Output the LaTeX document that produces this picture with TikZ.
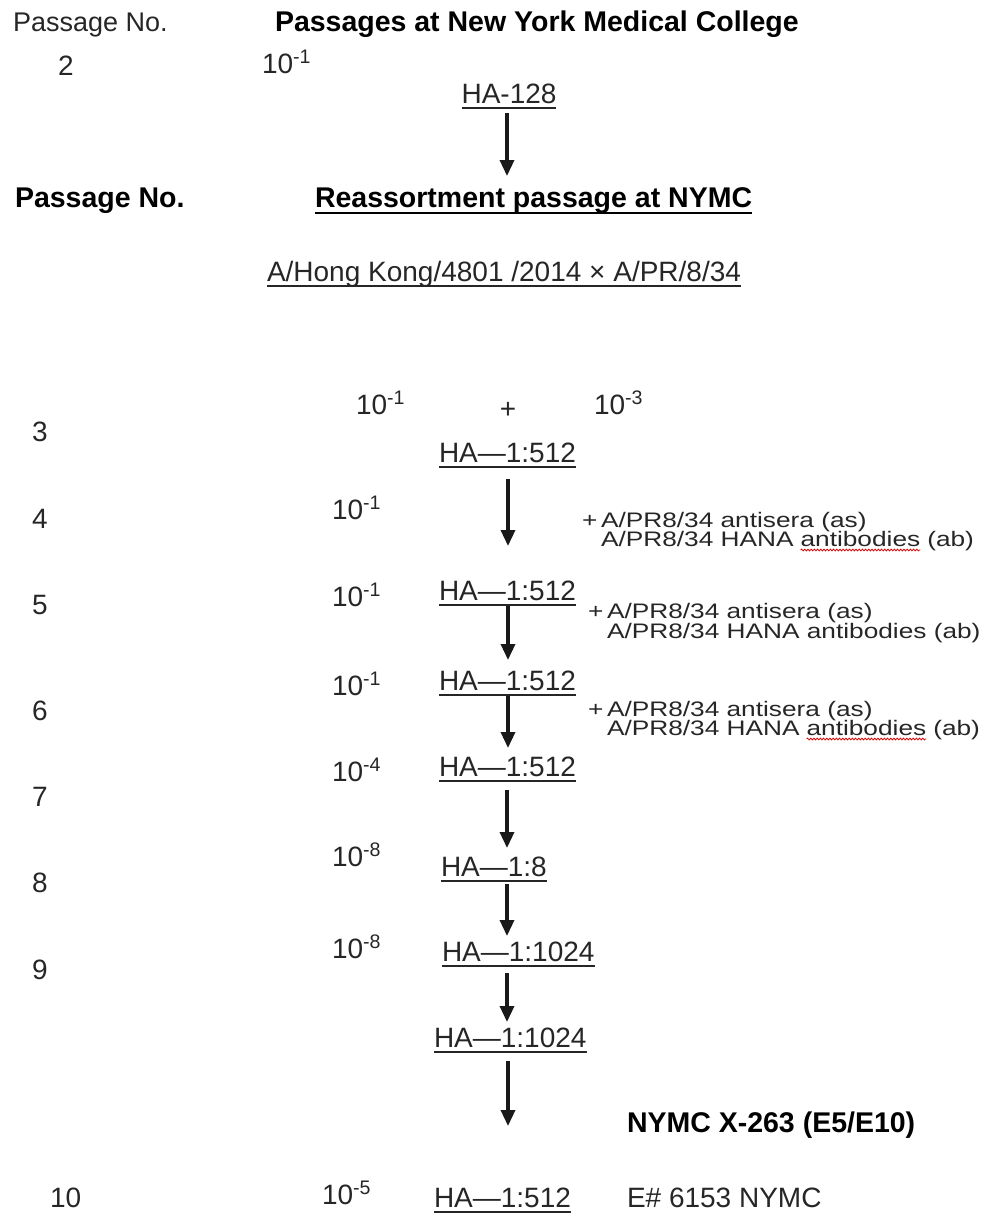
\documentclass[tikz,border=0pt]{standalone}
\usepackage{fontspec}
\setmainfont{Liberation Sans}
\newfontfamily\widefont[FakeStretch=1.25]{Liberation Sans}
\usetikzlibrary{arrows.meta,decorations.pathmorphing}
\tikzset{
 txt/.style={inner sep=0pt, outer sep=0pt, anchor=base west, font=\fontsize{28}{30}\selectfont, text=black!85},
 bld/.style={txt, font=\fontsize{28.5}{30}\selectfont\bfseries, text=black},
 smalltxt/.style={txt, font=\widefont\fontsize{21}{23}\selectfont},
 ul/.style={line width=1.8pt, black!85},
 bul/.style={line width=2.6pt, black},
 arr/.style={line width=3.4pt, -{Triangle[length=16pt,width=14pt]}, black!90},
 spell/.style={red!85!black, line width=0.8pt, decorate, decoration={snake, amplitude=0.9pt, segment length=3.2pt}}
}
\newcommand\expo[1]{\textsuperscript{#1}}
\begin{document}
\begin{tikzpicture}[x=1pt, y=-1pt]
\useasboundingbox (0,0) rectangle (982,1224);
% header
\node[txt, font=\fontsize{27}{30}\selectfont] (pn1) at (13,31) {Passage No.};
\node[bld] (t1) at (275,31) {Passages at New York Medical College};
\node[txt] (p2) at (58,75) {2};
\node[txt] (d2) at (262,73) {10\expo{-1}};
\node[txt, anchor=base] (ha2) at (509,103) {HA-128};
\coordinate (a1s) at (507,113); \coordinate (a1e) at (507,176);
\draw[arr] (a1s) -- (a1e);
\node[bld] (pn2) at (15,207) {Passage No.};
\node[bld] (t2) at (315,207) {Reassortment passage at NYMC};
\node[txt] (hk) at (267,281) {A/Hong Kong/4801 /2014 × A/PR/8/34};
% row 3
\node[txt] (p3) at (32,441) {3};
\node[txt] (d3a) at (356,414) {10\expo{-1}};
\node[txt, anchor=base] (plus3) at (508,418) {+};
\node[txt] (d3b) at (594,414) {10\expo{-3}};
\node[txt] (ha3) at (439,462) {HA—1:512};
% row 4
\node[txt] (p4) at (32,528) {4};
\node[txt] (d4) at (332,519) {10\expo{-1}};
\coordinate (a4s) at (508,479); \coordinate (a4e) at (508,546);
\draw[arr] (a4s) -- (a4e);
\node[smalltxt] (pl4) at (582,527) {+};
\node[smalltxt] (as4) at (601,527) {A/PR8/34 antisera (as)};
\node[smalltxt] (ab4a) at (601,546) {A/PR8/34 HANA};
\node[smalltxt] (ab4b) at ([xshift=7pt]ab4a.base east) {antibodies};
\node[smalltxt] (ab4c) at ([xshift=7pt]ab4b.base east) {(ab)};
\draw[spell] ([yshift=-4pt]ab4b.base west) -- ([yshift=-4pt]ab4b.base east);
\node[txt] (ha4) at (439,600) {HA—1:512};
% row 5
\node[txt] (p5) at (32,614) {5};
\node[txt] (d5) at (332,606) {10\expo{-1}};
\coordinate (a5s) at (508,606); \coordinate (a5e) at (508,660);
\draw[arr] (a5s) -- (a5e);
\node[smalltxt] (pl5) at (588,618) {+};
\node[smalltxt] (as5) at (607,618) {A/PR8/34 antisera (as)};
\node[smalltxt] (ab5) at (607,638) {A/PR8/34 HANA antibodies (ab)};
\node[txt] (ha5) at (439,690) {HA—1:512};
% row 6
\node[txt] (p6) at (32,720) {6};
\node[txt] (d6) at (332,695) {10\expo{-1}};
\coordinate (a6s) at (508,695); \coordinate (a6e) at (508,748);
\draw[arr] (a6s) -- (a6e);
\node[smalltxt] (pl6) at (588,716) {+};
\node[smalltxt] (as6) at (607,716) {A/PR8/34 antisera (as)};
\node[smalltxt] (ab6a) at (607,735) {A/PR8/34 HANA};
\node[smalltxt] (ab6b) at ([xshift=7pt]ab6a.base east) {antibodies};
\node[smalltxt] (ab6c) at ([xshift=7pt]ab6b.base east) {(ab)};
\draw[spell] ([yshift=-4pt]ab6b.base west) -- ([yshift=-4pt]ab6b.base east);
\node[txt] (ha6) at (439,776) {HA—1:512};
% row 7
\node[txt] (p7) at (32,806) {7};
\node[txt] (d7) at (332,781) {10\expo{-4}};
\coordinate (a7s) at (507,790); \coordinate (a7e) at (507,848);
\draw[arr] (a7s) -- (a7e);
\node[txt] (ha7) at (441,876) {HA—1:8};
% row 8
\node[txt] (p8) at (32,892) {8};
\node[txt] (d8) at (332,866) {10\expo{-8}};
\coordinate (a8s) at (507,884); \coordinate (a8e) at (507,936);
\draw[arr] (a8s) -- (a8e);
\node[txt] (ha8) at (442,961) {HA—1:1024};
% row 9
\node[txt] (p9) at (32,979) {9};
\node[txt] (d9) at (332,958) {10\expo{-8}};
\coordinate (a9s) at (507,973); \coordinate (a9e) at (507,1022);
\draw[arr] (a9s) -- (a9e);
\node[txt] (ha9) at (434,1047) {HA—1:1024};
% row 10
\coordinate (a10s) at (508,1061); \coordinate (a10e) at (508,1126);
\draw[arr] (a10s) -- (a10e);
\node[bld] (x263) at (627,1132) {NYMC X-263 (E5/E10)};
\node[txt] (p10) at (50,1207) {10};
\node[txt] (d10) at (322,1204) {10\expo{-5}};
\node[txt] (ha10) at (434,1207) {HA—1:512};
\node[txt] (e6153) at (627,1207) {E\# 6153 NYMC};
% underlines
\foreach \n in {ha2,hk,ha3,ha4,ha5,ha6,ha7,ha8,ha9,ha10}
  \draw[ul] ([yshift=-5pt]\n.base west) -- ([yshift=-5pt]\n.base east);
\draw[bul] ([yshift=-6pt]t2.base west) -- ([yshift=-6pt]t2.base east);
\end{tikzpicture}
\end{document}
